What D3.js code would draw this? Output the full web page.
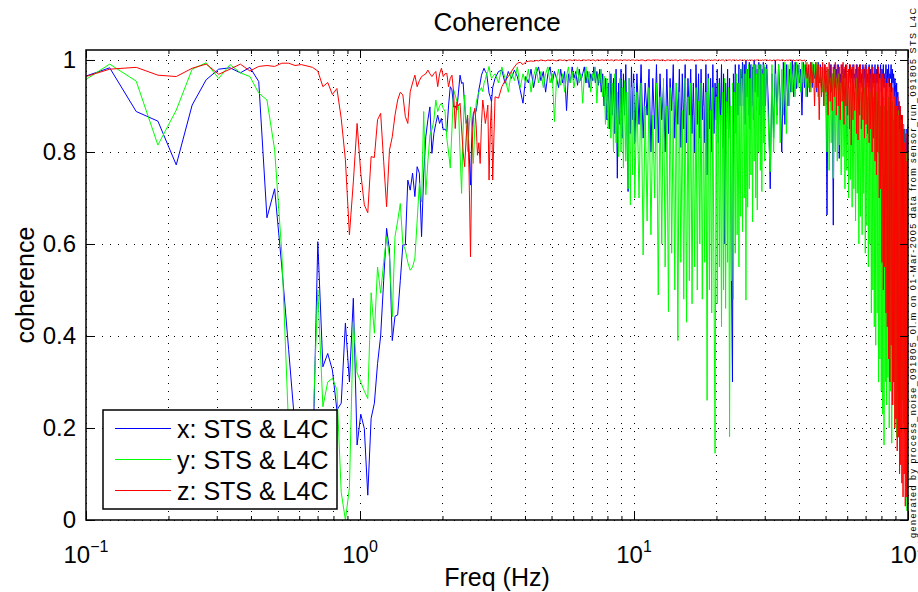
<!DOCTYPE html>
<html><head><meta charset="utf-8">
<script src="https://cdn.jsdelivr.net/npm/d3@7"></script>
<style>
body{margin:0;background:#fff;}
svg{display:block;font-family:"Liberation Sans",Arial,Helvetica,sans-serif;}
</style></head><body>
<svg id="chart" width="918" height="592"></svg>
<script>
// ---------------- DATA ----------------
const titleText = "Coherence";
const xLabel = "Freq (Hz)";
const yLabel = "coherence";
const sideNote = "generated by process_noise_091805_0l.m on 01-Mar-2005 data from sensor_run_091805 STS L4C";
const seriesNames = ["x: STS & L4C", "y: STS & L4C", "z: STS & L4C"];
const seriesColors = ["#0000ff", "#00ff00", "#ff0000"];
const xTickExps = [-1, 0, 1, 2];
const yTicks = [0, 0.2, 0.4, 0.6, 0.8, 1];
// FFT bin width (Hz) and the bins kept: [firstBin, lastBin, step]
const binWidth = 0.0305;
const binSegments = [[3, 100, 1], [102, 330, 3], [336, 990, 6], [1000, 3280, 15]];

// x: STS & L4C
const blueLow = [.957,.983,.888,.867,.772,.902,.957,.98,.983,.972,
.984,.953,.657,.72,.55,.37,.2,.05,.12,.1,
.605,.333,.362,.326,.239,.254,.428,.30,.482,.163,
.23,.199,.054,.221,.254,.34,.40,.52,.634,.587,
.39,.443,.446,.52,.598,.598,.739,.717,.754,.703,
.768,.754,.616,.75,.833,.87,.898,.797,.84,.862,
.88,.862,.873,.848,.85,.844,.9,.942,.935,.898,
.9,.891,.93,.967,.949,.951,.9,.862,.873,.8,
.728,.85,.884,.89,.888,.91,.935,.95,.967,.975,
.982,.975,.971,.95,.928,.92,.909,.94];
const blueMid = [.96,.975,.978,.949,.975,.96,.978,.964,.935,.906,
.964,.95,.98,.94,.97,.985,.955,.975,.93,.97,
.985,.95,.975,.96,.94,.98,.95,.975,.89,.97,
.95,.985,.96,.975,.945,.98,.955,.97,.985,.95,
.975,.94,.97,.955,.985,.95,.975,.945,.98,.93,
.97,.9,.96,.87,.95,.85,.97,.88,.96,.84,
.98,.743,.95,.86,.98,.83,.97,.88,.99,.85,
.714,.96,.84,.985,.87,.97,.82];
const blueHigh = [.97,.86,.99,.83,.95,.88,.98,.8,.96,.85,
.99,.82,.97,.87,.94,.8,.98,.84,.96,.89,
.99,.83,.95,.86,.98,.81,.97,.85,.99,.82,
.96,.88,.98,.84,.95,.8,.99,.86,.97,.83,
.98,.87,.95,.82,.99,.75,.97,.85,.96,.8,
.99,.84,.95,.87,.98,.82,.96,.86,.99,.81,
.97,.6,.95,.85,.98,.83,.96,.8,.526,.3,
.97,.86,.99,.84,.95,.88,.99,.9,.98,.93,
.995,.9,.99,.86,1,.92,.98,.88,.995,.85,
.99,.9,.985,.87,1,.93,.99,.89,.98,.92,
.995,.88,.99,.84,.98,.9,.995,.86,.985,.9];
const blueTop = [.99,.9,.72,.97,.83,1,.88,.99,.92,.8,
.995,.86,.99,.9,.98,.93,1,.92,.995,.938,
.99,.95,.98,.88,.995,.94,.99,.92,.985,.95,
.995,.94,.99,.96,.98,.93,.995,.95,.99,.94,
.985,.96,.99,.95,.663,.98,.95,.99,.93,.97,
.641,.99,.94,.98,.95,.99,.786,.97,.95,.99,
.93,.98,.96,.99,.815,.97,.94,.99,.95,.98,
.93,.99,.96,.97,.94,.99,.95,.98,.92,.99,
.95,.97,.94,.99,.93,.98,.96,.99,.94,.97,
.95,.99,.93,.98,.96,.99,.94,.97,.95,.99,
.93,.98,.95,.99,.94,.97,.96,.99,.93,.98,
.95,.99,.94,.97,.96,.99,.93,.98,.95,.99,
.94,.97,.96,.99,.93,.98,.95,.97,.92,.96,
.946,.9,.95,.88,.93,.86,.91,.84,.9,.82,
.88,.8,.866,.78,.86,.76,.85,.8,.83,.75,
.85,.8,.86];

// y: STS & L4C
const greenLow = [.943,.991,.954,.815,.891,.98,.994,.96,.99,.972,
.964,.928,.913,.805,.58,.2,.12,.15,.1,.18,
.5,.246,.3,.308,.283,.06,.0,.07,.43,.32,
.3,.28,.264,.494,.406,.55,.493,.56,.616,.572,
.442,.616,.65,.688,.6,.587,.56,.543,.55,.569,
.65,.732,.692,.888,.707,.78,.837,.848,.87,.913,
.888,.9,.906,.895,.888,.83,.8,.765,.85,.935,
.924,.91,.898,.8,.71,.85,.924,.86,.801,.85,
.898,.84,.775,.85,.906,.92,.93,.935,.94,.931,
.95,.957,.97,.975,.986,.97,.96,.964];
const greenMid = [.97,.95,.985,.96,.93,.975,.955,.985,.94,.97,
.95,.98,.93,.965,.985,.95,.975,.94,.97,.985,
.95,.97,.866,.96,.98,.945,.97,.93,.965,.985,
.95,.975,.94,.965,.985,.95,.97,.906,.965,.985,
.95,.975,.93,.97,.955,.985,.906,.97,.95,.98,
.92,.965,.86,.96,.85,.975,.83,.95,.8,.97,
.82,.93,.79,.96,.8,.94,.765,.955,.78,.93,
.72,.96,.685,.94,.75,.95,.7];
const greenHigh = [.93,.7,.95,.576,.9,.65,.94,.62,.88,.7,
.95,.489,.92,.6,.96,.55,.9,.453,.94,.58,
.91,.5,.95,.39,.93,.56,.89,.48,.96,.43,
.92,.52,.95,.47,.88,.55,.94,.5,.91,.6,
.95,.48,.9,.56,.93,.26,.96,.5,.89,.45,
.94,.53,.145,.92,.47,.95,.55,.88,.42,.93,
.5,.96,.46,.91,.56,.94,.181,.9,.52,.95,
.48,.93,.58,.97,.62,.95,.55,.98,.66,.96,
.627,.99,.7,.97,.478,.98,.68,.99,.72,.96,
.75,.99,.648,.98,.78,.99,.7,.97,.674,.99,
.8,.98,.76,.99,.714,.97,.82,.99,.78,.98];
const greenTop = [.98,.85,.757,.99,.8,.97,.86,.99,.82,.98,
.88,.995,.84,.99,.9,.995,.93,.99,.92,.995,
.94,.99,.93,.995,.95,.99,.92,.995,.94,.99,
.93,.995,.95,.99,.94,.995,.92,.99,.95,.985,
.93,.98,.9,.97,.8,.98,.76,.96,.82,.97,
.743,.98,.8,.96,.78,.97,.815,.95,.75,.97,
.79,.96,.72,.95,.76,.97,.7,.94,.74,.96,
.68,.95,.72,.93,.65,.96,.71,.94,.6,.95,
.66,.93,.62,.96,.71,.94,.58,.95,.64,.92,
.55,.94,.6,.93,.45,.95,.5,.92,.42,.94,
.38,.93,.45,.91,.3,.94,.35,.9,.28,.93,
.23,.92,.163,.9,.3,.93,.25,.89,.31,.92,
.2,.9,.28,.88,.167,.91,.25,.87,.3,.9,
.22,.88,.18,.86,.28,.89,.2,.85,.25,.87,
.19,.84,.26,.86,.21,.82,.19,.85,.24,.8,
.02,.6,.1];

// z: STS & L4C
const redLow = [.957,.98,.984,.967,.964,.982,.991,.969,.98,.991,
.976,.986,.988,.986,.993,.993,.988,.99,.987,.984,
.976,.942,.951,.925,.938,.873,.783,.62,.735,.862,
.754,.685,.668,.79,.788,.87,.884,.78,.681,.804,
.833,.88,.913,.93,.924,.877,.862,.931,.95,.967,
.942,.955,.964,.967,.97,.978,.97,.964,.97,.975,
.942,.97,.982,.964,.97,.971,.942,.96,.967,.93,
.851,.909,.9,.906,.85,.8,.768,.83,.88,.75,
.572,.8,.877,.895,.86,.793,.82,.775,.862,.913,
.89,.862,.88,.902,.739,.85,.909,.739];
const redMid = [.92,.917,.942,.955,.964,.975,.985,.993,.995,.99,
.996,.997,.998,.997,.999,.998,1,.999,.998,1,
.999,1,.999,.998,1,1,.999,1,.998,1,
1,.999,1,1,.999,1,.998,1,1,.999,
1,1,.999,1,1,.998,1,1,.999,1,
1,.999,1,1,1,.999,1,1,.998,1,
1,1,.999,1,1,.999,1,1,1,.999,
1,1,.999,1,1,1,.999];
const redHigh = [1,.999,1,1,.998,1,1,.999,1,1,
1,1,.999,1,1,.998,1,1,.999,1,
.999,1,1,.998,1,1,.999,1,1,1,
1,.999,1,1,1,.998,1,.999,1,1,
1,1,.999,1,.998,1,1,1,.999,1,
.999,1,1,1,.998,1,1,.999,1,1,
1,.998,1,1,.999,1,1,1,.998,1,
1,1,.999,1,1,.998,1,1,1,.999,
1,.999,1,1,.998,1,1,.999,1,1,
.999,1,1,.998,1,1,.999,1,1,1,
1,.999,1,.998,1,1,.999,1,1,1];
const redTop = [1,.999,1,.998,1,.999,1,1,.999,1,
1,.998,1,.999,1,1,.999,1,.998,1,
.999,1,1,.998,.999,1,.995,.96,.99,.93,
.995,.95,.99,.9,.995,.94,.99,.87,.985,.92,
.995,.9,.99,.93,.985,.88,.995,.91,.99,.89,
.985,.92,.995,.88,.99,.9,.985,.87,.99,.91,
.995,.86,.985,.9,.99,.88,.98,.85,.99,.815,
.985,.87,.99,.89,.98,.84,.99,.826,.985,.88,
.99,.85,.98,.87,.985,.83,.99,.86,.98,.84,
.985,.82,.97,.85,.98,.8,.985,.83,.97,.78,
.98,.75,.97,.8,.985,.7,.96,.72,.98,.56,
.97,.5,.96,.55,.97,.45,.95,.42,.96,.35,
.94,.3,.95,.38,.93,.25,.94,.3,.92,.2,
.93,.22,.9,.15,.92,.18,.88,.1,.9,.12,
.86,.08,.88,.05,.85,.1,.82,.03,.84,.05,
.78,.02,.8];

// ---------------- BUILD ----------------
const bins = binSegments.flatMap(([a, b, s]) => d3.range(a, b + 1, s));
const freqs = bins.map(k => k * binWidth);
const seriesValues = [
  [...blueLow, ...blueMid, ...blueHigh, ...blueTop],
  [...greenLow, ...greenMid, ...greenHigh, ...greenTop],
  [...redLow, ...redMid, ...redHigh, ...redTop]
];

const W = 918, H = 592;
const L = 86, R = 908, T = 50, B = 520;
const svg = d3.select("#chart");
svg.append("rect").attr("width", W).attr("height", H).attr("fill", "#fff");

const x = d3.scaleLog().domain([0.1, 100]).range([L, R]);
const y = d3.scaleLinear().domain([0, 1.0217]).range([B, T]);

const majors = xTickExps.map(e => Math.pow(10, e));
const minors = [];
for (let e = -1; e < 2; e++) for (let m = 2; m <= 9; m++) minors.push(m * Math.pow(10, e));

// grid
const grid = svg.append("g").attr("class", "grid");
grid.append("g").attr("transform", `translate(0,${B})`)
  .call(d3.axisBottom(x).tickValues(majors.concat(minors)).tickSize(-(B - T)).tickFormat(""))
  .call(g => g.select(".domain").remove());
grid.append("g").attr("transform", `translate(${L},0)`)
  .call(d3.axisLeft(y).tickValues(yTicks).tickSize(-(R - L)).tickFormat(""))
  .call(g => g.select(".domain").remove());
grid.selectAll("line").attr("stroke", "#000").attr("stroke-width", 1)
  .attr("stroke-dasharray", "1,7").attr("shape-rendering", "crispEdges");

// data
svg.append("clipPath").attr("id", "clip").append("rect")
  .attr("x", L).attr("y", T).attr("width", R - L).attr("height", B - T);
const line = d3.line().x(d => x(d[0])).y(d => y(d[1]));
const plot = svg.append("g").attr("clip-path", "url(#clip)");
seriesValues.forEach((vals, i) => {
  const n = Math.min(vals.length, freqs.length);
  const pts = d3.range(n).map(j => [freqs[j], vals[j]]);
  plot.append("path").datum(pts).attr("d", line)
    .attr("fill", "none").attr("stroke", seriesColors[i]).attr("stroke-width", 1)
    .attr("stroke-linejoin", "round");
});

// axes ticks (inside)
function styleAxis(g) { g.select(".domain").remove(); g.selectAll("line").attr("stroke", "#000").attr("stroke-width", 1); }
svg.append("g").attr("transform", `translate(0,${B})`).call(d3.axisBottom(x).tickValues(majors).tickSize(-8).tickFormat("")).call(styleAxis);
svg.append("g").attr("transform", `translate(0,${B})`).call(d3.axisBottom(x).tickValues(minors).tickSize(-4).tickFormat("")).call(styleAxis);
svg.append("g").attr("transform", `translate(0,${T})`).call(d3.axisTop(x).tickValues(majors).tickSize(-8).tickFormat("")).call(styleAxis);
svg.append("g").attr("transform", `translate(0,${T})`).call(d3.axisTop(x).tickValues(minors).tickSize(-4).tickFormat("")).call(styleAxis);
svg.append("g").attr("transform", `translate(${R},0)`).call(d3.axisRight(y).tickValues(yTicks).tickSize(-8).tickFormat("")).call(styleAxis);
const yAx = svg.append("g").attr("transform", `translate(${L},0)`)
  .call(d3.axisLeft(y).tickValues(yTicks).tickSize(-8).tickPadding(10)
    .tickFormat(d => (d === 0 || d === 1) ? String(d) : d3.format(".1f")(d)))
  .call(styleAxis);
yAx.selectAll("text").attr("font-size", 24).attr("fill", "#000")
  .attr("font-family", '"Liberation Sans",Arial,sans-serif');

// box
svg.append("rect").attr("x", L).attr("y", T).attr("width", R - L).attr("height", B - T)
  .attr("fill", "none").attr("stroke", "#000").attr("stroke-width", 1.5);

// x tick labels 10^n
xTickExps.forEach(e => {
  const t = svg.append("text").attr("x", x(Math.pow(10, e))).attr("y", 563)
    .attr("text-anchor", "middle").attr("font-size", 24).attr("fill", "#000");
  t.append("tspan").text("10");
  t.append("tspan").attr("font-size", 16).attr("dy", -11).text(e < 0 ? "\u2212" + Math.abs(e) : String(e));
});

// labels
svg.append("text").attr("x", (L + R) / 2).attr("y", 31).attr("text-anchor", "middle")
  .attr("font-size", 26).text(titleText);
svg.append("text").attr("x", (L + R) / 2).attr("y", 586).attr("text-anchor", "middle")
  .attr("font-size", 25).text(xLabel);
svg.append("text").attr("transform", `translate(34,${(T + B) / 2}) rotate(-90)`)
  .attr("text-anchor", "middle").attr("font-size", 25).text(yLabel);
svg.append("text").attr("transform", `translate(916,538) rotate(-90)`)
  .attr("text-anchor", "start").attr("font-size", 9)
  .attr("textLength", 530).attr("lengthAdjust", "spacing").text(sideNote);

// legend
const lg = svg.append("g");
lg.append("rect").attr("x", 103).attr("y", 410).attr("width", 234).attr("height", 99)
  .attr("fill", "#fff").attr("stroke", "#000").attr("stroke-width", 1.5);
seriesNames.forEach((name, i) => {
  const ly = 428.5 + i * 31;
  lg.append("line").attr("x1", 115).attr("x2", 171).attr("y1", ly).attr("y2", ly)
    .attr("stroke", seriesColors[i]).attr("stroke-width", 1);
  lg.append("text").attr("x", 177).attr("y", ly + 9).attr("font-size", 25).text(name);
});
</script>
</body></html>
